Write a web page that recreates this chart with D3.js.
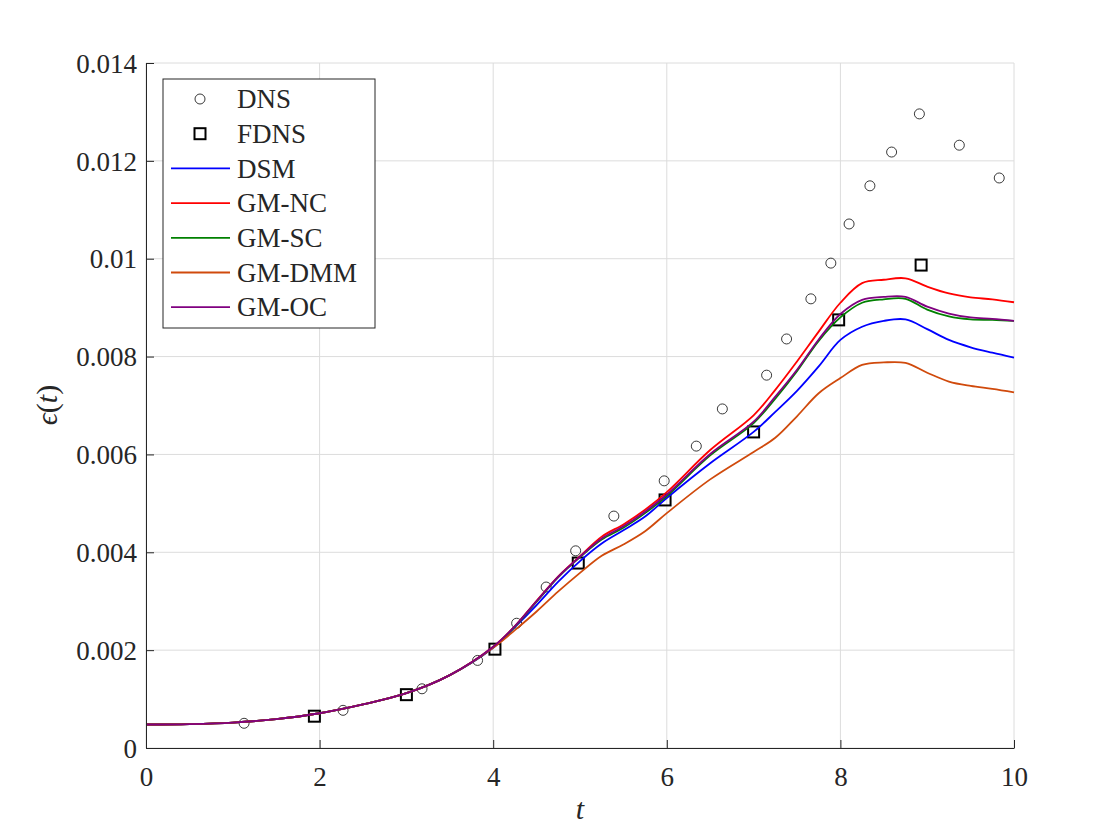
<!DOCTYPE html>
<html>
<head>
<meta charset="utf-8">
<script src="https://d3js.org/d3.v7.min.js"></script>
<style>
  body { margin: 0; background: #fff; }
  svg text { font-family: "Liberation Serif", "DejaVu Serif", serif; fill: #262626; }
</style>
</head>
<body>
<div id="chart"></div>
<script>
// time grid for the model curves
const tGrid = [0, 0.5, 1, 1.5, 2, 2.5, 3, 3.5, 4, 4.25, 4.5, 4.75, 5, 5.25, 5.5, 5.75, 6, 6.5, 7, 7.25, 7.5, 7.75, 8, 8.25, 8.5, 8.75, 9, 9.25, 9.5, 9.75, 10];

// all models coincide up to t = 3.5
const early = [0.00048, 0.00049, 0.00052, 0.00059, 0.00071, 0.00089, 0.00112, 0.00149];

const dsm   = early.concat([0.00205, 0.00247, 0.00292, 0.00340, 0.00382, 0.00418, 0.00445, 0.00473, 0.00511, 0.00582, 0.00646, 0.00687, 0.00730, 0.00780, 0.00834, 0.00861, 0.00873, 0.00876, 0.00856, 0.00834, 0.00819, 0.00808, 0.00798]);
const gmNC  = early.concat([0.00207, 0.00249, 0.00301, 0.00351, 0.00392, 0.00432, 0.00457, 0.00487, 0.00523, 0.00609, 0.00680, 0.00732, 0.00790, 0.00851, 0.00910, 0.00950, 0.00957, 0.00960, 0.00943, 0.00929, 0.00921, 0.00917, 0.00911]);
const gmSC  = early.concat([0.00206, 0.00248, 0.00299, 0.00349, 0.00390, 0.00426, 0.00450, 0.00480, 0.00515, 0.00598, 0.00664, 0.00714, 0.00770, 0.00832, 0.00880, 0.00910, 0.00917, 0.00918, 0.00896, 0.00882, 0.00876, 0.00875, 0.00873]);
const gmDMM = early.concat([0.00205, 0.00241, 0.00279, 0.00320, 0.00358, 0.00393, 0.00416, 0.00443, 0.00480, 0.00549, 0.00605, 0.00634, 0.00678, 0.00725, 0.00756, 0.00783, 0.00788, 0.00787, 0.00767, 0.00749, 0.00740, 0.00734, 0.00727]);
const gmOC  = early.concat([0.00207, 0.00249, 0.00300, 0.00350, 0.00391, 0.00428, 0.00453, 0.00483, 0.00518, 0.00601, 0.00667, 0.00718, 0.00773, 0.00835, 0.00887, 0.00916, 0.00922, 0.00922, 0.00902, 0.00888, 0.00880, 0.00877, 0.00873]);

// DNS reference (circles)
const dnsT = [1.13, 2.27, 3.18, 3.82, 4.27, 4.61, 4.95, 5.39, 5.97, 6.34, 6.64, 7.15, 7.38, 7.66, 7.89, 8.10, 8.34, 8.59, 8.91, 9.37, 9.83];
const dnsV = [0.000505, 0.00077, 0.00121, 0.00179, 0.00255, 0.00329, 0.00403, 0.00474, 0.00546, 0.00617, 0.00693, 0.00762, 0.00836, 0.00918, 0.00991, 0.01071, 0.01149, 0.01218, 0.01296, 0.01232, 0.01165];

// filtered DNS (squares)
const fdnsT = [1.94, 3.00, 4.02, 4.98, 5.98, 7.00, 7.98, 8.93];
const fdnsV = [0.00065, 0.00109, 0.00202, 0.00378, 0.00507, 0.00646, 0.00875, 0.00987];

const xTicks = [0, 2, 4, 6, 8, 10];
const yTicks = [0, 0.002, 0.004, 0.006, 0.008, 0.01, 0.012, 0.014];
const yTickLabels = ["0", "0.002", "0.004", "0.006", "0.008", "0.01", "0.012", "0.014"];

const models = [
  { name: "DSM",    values: dsm,   color: "#0000ff" },
  { name: "GM-NC",  values: gmNC,  color: "#ff0000" },
  { name: "GM-SC",  values: gmSC,  color: "#008000" },
  { name: "GM-DMM", values: gmDMM, color: "#d04a0c" },
  { name: "GM-OC",  values: gmOC,  color: "#800080" }
];

const W = 1120, H = 840;
const margin = { left: 146, right: 106, top: 63, bottom: 92 };
const iw = W - margin.left - margin.right;
const ih = H - margin.top - margin.bottom;

const svg = d3.select("#chart").append("svg").attr("width", W).attr("height", H);
const g = svg.append("g").attr("transform", `translate(${margin.left},${margin.top})`);

const x = d3.scaleLinear().domain([0, 10]).range([0, iw]);
const y = d3.scaleLinear().domain([0, 0.014]).range([ih, 0]);

// grid
g.append("g").selectAll("line").data(xTicks).enter().append("line")
  .attr("x1", d => x(d)).attr("x2", d => x(d)).attr("y1", 0).attr("y2", ih)
  .attr("stroke", "#dcdcdc").attr("stroke-width", 1);
g.append("g").selectAll("line").data(yTicks).enter().append("line")
  .attr("y1", d => y(d)).attr("y2", d => y(d)).attr("x1", 0).attr("x2", iw)
  .attr("stroke", "#dcdcdc").attr("stroke-width", 1);

// markers first, lines on top
g.append("g").selectAll("circle").data(dnsT).enter().append("circle")
  .attr("cx", d => x(d)).attr("cy", (d, i) => y(dnsV[i])).attr("r", 5)
  .attr("fill", "none").attr("stroke", "#222").attr("stroke-width", 0.9);

const sq = 11;
g.append("g").selectAll("rect").data(fdnsT).enter().append("rect")
  .attr("x", d => x(d) - sq / 2).attr("y", (d, i) => y(fdnsV[i]) - sq / 2)
  .attr("width", sq).attr("height", sq)
  .attr("fill", "none").attr("stroke", "#000").attr("stroke-width", 2);

const line = d3.line()
  .x((d, i) => x(tGrid[i]))
  .y(d => y(d))
  .curve(d3.curveCatmullRom.alpha(0.5));

models.forEach(m => {
  g.append("path").datum(m.values)
    .attr("d", line)
    .attr("fill", "none")
    .attr("stroke", m.color)
    .attr("stroke-width", 1.8);
});

// axes (left + bottom, ticks inward)
const xAxis = d3.axisBottom(x).tickValues(xTicks).tickSizeInner(-8).tickSizeOuter(0).tickPadding(14);
const yAxis = d3.axisLeft(y).tickValues(yTicks).tickSizeInner(-8).tickSizeOuter(0).tickPadding(9)
  .tickFormat((d, i) => yTickLabels[i]);

const gx = g.append("g").attr("transform", `translate(0,${ih})`).call(xAxis);
const gy = g.append("g").call(yAxis);
[gx, gy].forEach(a => {
  a.attr("font-family", null).attr("font-size", null);
  a.select(".domain").attr("stroke", "#262626").attr("stroke-width", 1);
  a.selectAll(".tick line").attr("stroke", "#262626").attr("stroke-width", 1);
  a.selectAll(".tick text")
    .style("font-family", '"Liberation Serif", "DejaVu Serif", serif')
    .style("font-size", "27px")
    .attr("fill", "#262626");
});
gx.selectAll(".tick text").attr("dy", "0.9em");
gy.selectAll(".tick text").attr("dy", "0.34em");

// axis labels
svg.append("text")
  .attr("x", 580).attr("y", 819)
  .attr("text-anchor", "middle")
  .attr("font-size", 30).attr("font-style", "italic")
  .text("t");

svg.append("text")
  .attr("transform", "translate(57,405) rotate(-90)")
  .attr("text-anchor", "middle")
  .attr("font-size", 30)
  .html('<tspan font-style="italic">ϵ</tspan>(<tspan font-style="italic">t</tspan>)');

// legend
const lg = svg.append("g").attr("transform", "translate(163,79)");
lg.append("rect").attr("width", 212).attr("height", 249)
  .attr("fill", "#fff").attr("stroke", "#262626").attr("stroke-width", 1);

const rowY = i => 20 + i * 34.7;
const entries = [{ name: "DNS", kind: "circle" }, { name: "FDNS", kind: "square" }]
  .concat(models.map(m => ({ name: m.name, kind: "line", color: m.color })));

entries.forEach((e, i) => {
  const yy = rowY(i);
  if (e.kind === "circle") {
    lg.append("circle").attr("cx", 37).attr("cy", yy).attr("r", 5)
      .attr("fill", "none").attr("stroke", "#222").attr("stroke-width", 0.9);
  } else if (e.kind === "square") {
    lg.append("rect").attr("x", 37 - sq / 2).attr("y", yy - sq / 2).attr("width", sq).attr("height", sq)
      .attr("fill", "none").attr("stroke", "#000").attr("stroke-width", 2);
  } else {
    lg.append("line").attr("x1", 8).attr("x2", 67).attr("y1", yy).attr("y2", yy)
      .attr("stroke", e.color).attr("stroke-width", 1.8);
  }
  lg.append("text").attr("x", 74).attr("y", yy).attr("dy", "0.34em")
    .attr("font-size", 27).text(e.name);
});
</script>
</body>
</html>
